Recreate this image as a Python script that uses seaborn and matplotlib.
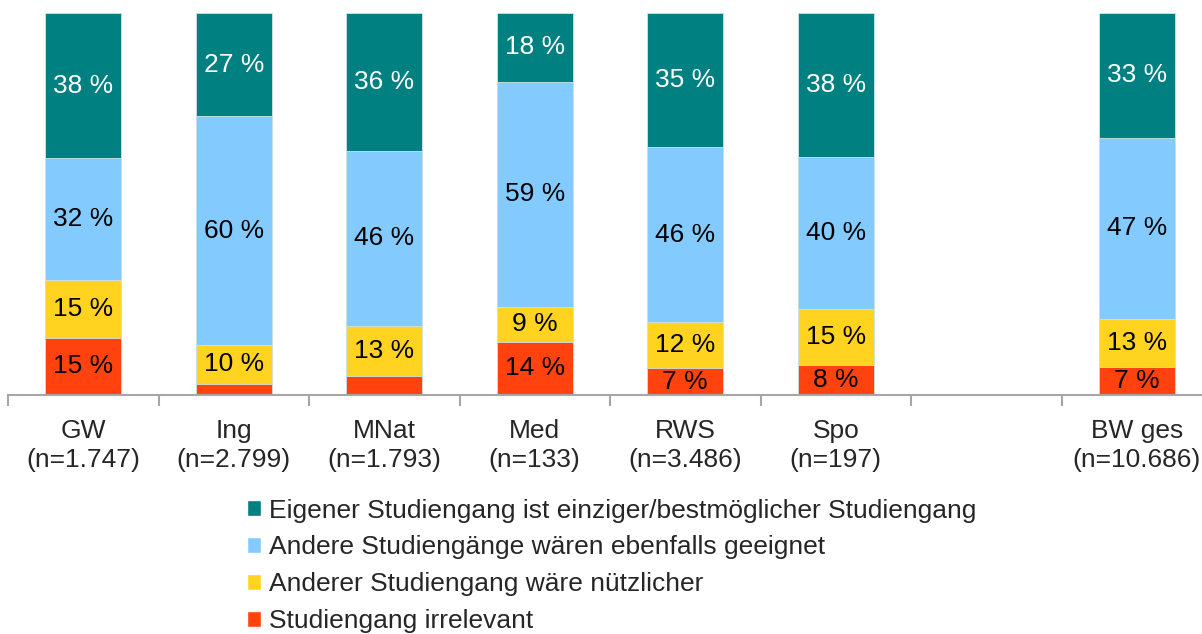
import pandas as pd
import matplotlib.pyplot as plt
import seaborn as sns
from matplotlib.patches import Patch

sns.set_style('white')
plt.rcParams['font.family'] = ['Liberation Sans', 'DejaVu Sans']

# --- Data ---
categories = ['GW\n(n=1.747)', 'Ing\n(n=2.799)', 'MNat\n(n=1.793)', 'Med\n(n=133)',
              'RWS\n(n=3.486)', 'Spo\n(n=197)', ' ', 'BW ges\n(n=10.686)']
irrelevant = [15, 3, 5, 14, 7, 7.8, None, 7.3]
nuetzlicher = [15, 10, 13, 9, 12, 14.8, None, 12.6]
geeignet = [32, 60, 46, 59, 46, 39.7, None, 47.4]
bestmoeglich = [38, 27, 36, 18, 35, 37.7, None, 32.7]

series_names = ['Studiengang irrelevant', 'Anderer Studiengang wäre nützlicher',
                'Andere Studiengänge wären ebenfalls geeignet',
                'Eigener Studiengang ist einziger/bestmöglicher Studiengang']
colors = ['#ff420e', '#ffd320', '#83caff', '#008080']
text_colors = ['black', 'black', 'black', 'white']

df = pd.DataFrame({'cat': categories, series_names[0]: irrelevant, series_names[1]: nuetzlicher,
                   series_names[2]: geeignet, series_names[3]: bestmoeglich})
df = df[df['cat'] != ' '].reset_index(drop=True)
cum = df[series_names].cumsum(axis=1)
cum['cat'] = df['cat']

fig = plt.figure(figsize=(12.02, 6.34), dpi=100)
ax = fig.add_axes([8 / 1202, 239 / 634, 1204 / 1202, 382 / 634])

# draw cumulative totals from the top layer down (classic stacked bars)
for name, col in zip(series_names[::-1], colors[::-1]):
    sns.barplot(data=cum, x='cat', y=name, order=categories, color=col, width=0.505,
                saturation=1, edgecolor='#cfe3e3', linewidth=0.6, ax=ax)

# percentage labels
pos = {c: i for i, c in enumerate(categories)}
for _, row in df.iterrows():
    base = 0
    for name, tc in zip(series_names, text_colors):
        v = row[name]
        if v >= 7:
            ax.text(pos[row['cat']], base + v / 2, f'{round(v):d} %', ha='center', va='center',
                    fontsize=19, color=tc)
        base += v

ax.set_ylim(0, 100)
ax.set_xlim(-0.5, len(categories) - 0.5)
ax.set_xlabel('')
ax.set_ylabel('')
ax.set_yticks([])
for s in ['left', 'top', 'right']:
    ax.spines[s].set_visible(False)
ax.spines['bottom'].set_color('#a6a6a6')
ax.spines['bottom'].set_linewidth(1.5)
ax.set_xticks([i - 0.5 for i in range(len(categories) + 1)], minor=True)
ax.tick_params(axis='x', which='minor', bottom=True, length=8, width=1.5,
               color='#a6a6a6', direction='out')
ax.tick_params(axis='x', which='major', bottom=True, length=0, pad=17, labelsize=19)
for lbl in ax.get_xticklabels():
    lbl.set_linespacing(1.3)

handles = [Patch(facecolor=c, label=n) for n, c in zip(series_names[::-1], colors[::-1])]
fig.legend(handles=handles, loc='upper left', bbox_to_anchor=(236 / 1202, 1 - 488 / 634),
           frameon=False, fontsize=19, handlelength=0.55, handleheight=0.55,
           handletextpad=0.3, labelspacing=0.49, borderaxespad=0)

fig.savefig('out.png', dpi=100)
